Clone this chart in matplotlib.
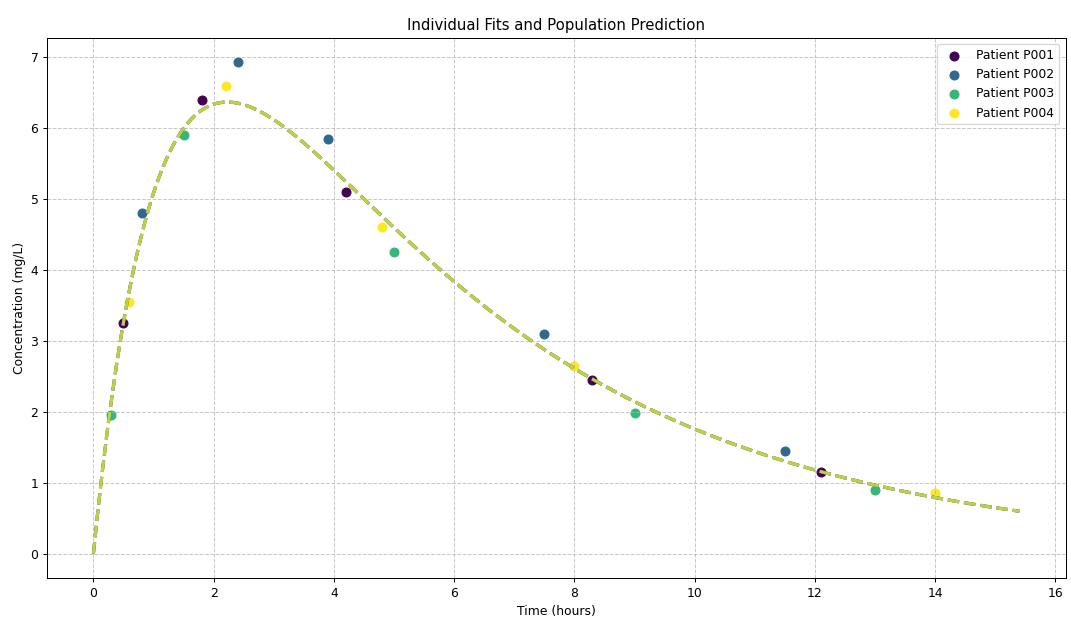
import numpy as np
import matplotlib.pyplot as plt

# Observed concentrations per patient (time in hours, conc in mg/L)
patients = ['P001', 'P002', 'P003', 'P004']
times_p001 = [0.5, 1.8, 4.2, 8.3, 12.1]
conc_p001 = [3.25, 6.4, 5.1, 2.45, 1.15]
times_p002 = [0.8, 2.4, 3.9, 7.5, 11.5]
conc_p002 = [4.8, 6.93, 5.85, 3.1, 1.45]
times_p003 = [0.3, 1.5, 5.0, 9.0, 13.0]
conc_p003 = [1.95, 5.9, 4.25, 1.98, 0.9]
times_p004 = [0.6, 2.2, 4.8, 8.0, 14.0]
conc_p004 = [3.55, 6.6, 4.6, 2.65, 0.85]

all_times = [times_p001, times_p002, times_p003, times_p004]
all_conc = [conc_p001, conc_p002, conc_p003, conc_p004]

# One-compartment oral absorption model parameters
ka = 0.85   # absorption rate constant (1/h)
ke = 0.20   # elimination rate constant (1/h)
amp = 13.0  # dose*F*ka / (V*(ka-ke)) (mg/L)


def one_compartment(t, ka, ke, amp):
    return amp * (np.exp(-ke * t) - np.exp(-ka * t))


t_max = max(max(t) for t in all_times) * 1.1
t_fit = np.linspace(0, t_max, 200)

colors = plt.cm.viridis(np.linspace(0, 1, len(patients)))

fig = plt.figure(figsize=(12, 6.936), dpi=89.25)
ax = fig.add_subplot(111)

for i, pid in enumerate(patients):
    ax.scatter(all_times[i], all_conc[i], color=colors[i], s=50, label=f'Patient {pid}')

# individual fits (all patients share the fitted parameters)
for i, pid in enumerate(patients):
    ax.plot(t_fit, one_compartment(t_fit, ka, ke, amp), '--', color=colors[i], alpha=0.7, linewidth=2.5)

ax.set_xlabel('Time (hours)')
ax.set_ylabel('Concentration (mg/L)')
ax.set_title('Individual Fits and Population Prediction')
ax.legend(loc='upper right')
ax.grid(True, linestyle='--', alpha=0.7)

fig.subplots_adjust(left=0.044, right=0.995, bottom=0.066, top=0.939)
fig.savefig('out.png', dpi=89.25)
